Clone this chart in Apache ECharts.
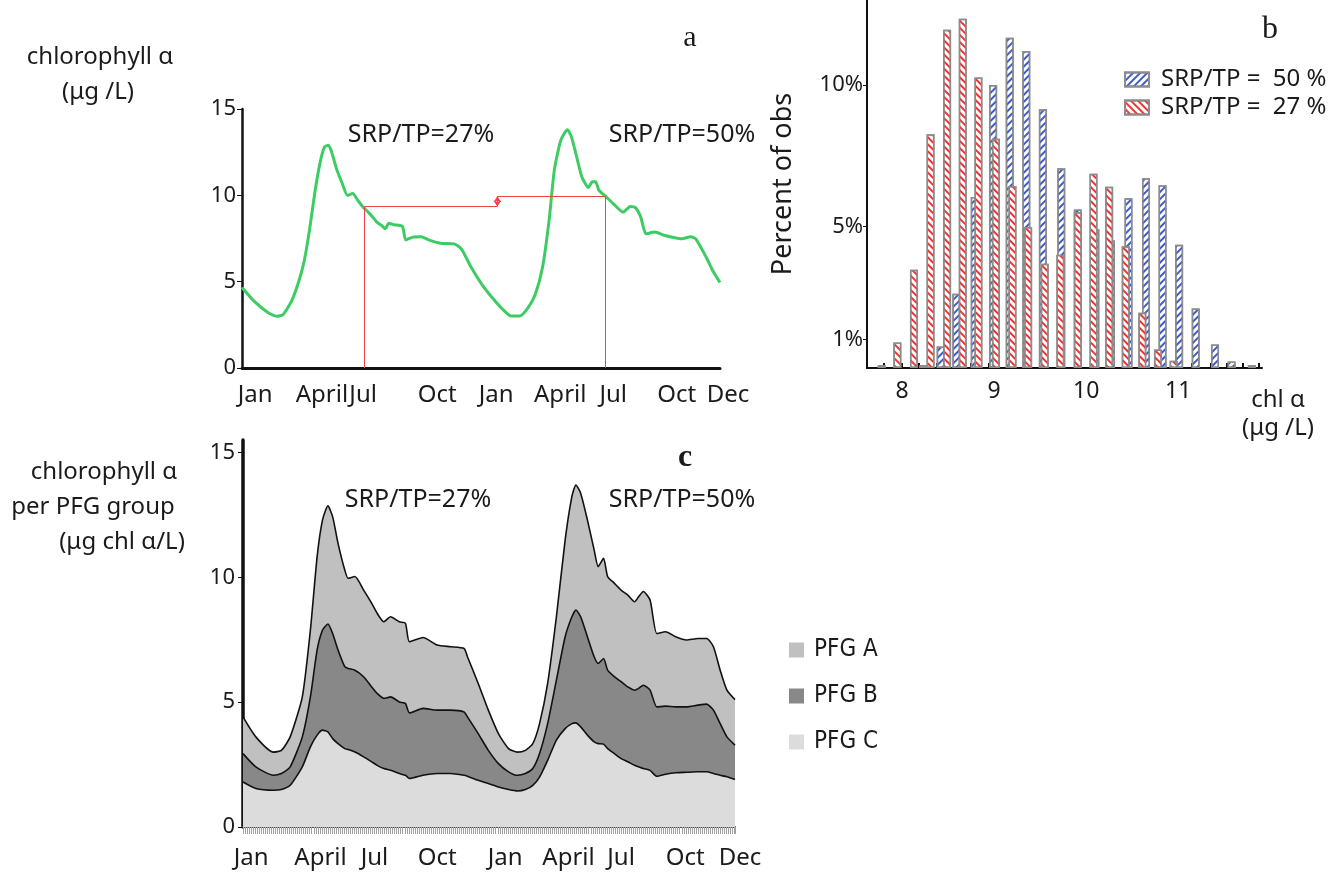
<!DOCTYPE html>
<html>
<head>
<meta charset="utf-8">
<title>chlorophyll</title>
<script src="https://cdn.jsdelivr.net/npm/echarts@6/dist/echarts.min.js"></script>
<style>
  html, body { margin: 0; padding: 0; background: #fff; }
  #main { width: 1339px; height: 877px; }
</style>
</head>
<body>
<div id="main"></div>
<script>
// ---- panel a : chlorophyll over two years (x = day) ----
const daysA = [0,18,40,53,63,76,87,95,103,111,119,126,132,137,145,153,161,169,177,184,195,206,213,219,224,232,245,250,261,274,285,303,324,335,350,366,382,398,411,424,437,448,459,469,477,487,497,503,511,519,529,535,540,545,555,567,582,593,601,609,617,630,646,661,672,685,693,709,719,730];
const chlA = [4.66,3.89,3.2,3.0,3.1,3.9,5.05,6.2,7.97,10.1,11.85,12.8,12.9,12.5,11.46,10.7,10.0,10.1,9.7,9.36,8.94,8.45,8.26,8.06,8.39,8.3,8.2,7.42,7.58,7.6,7.42,7.23,7.19,6.9,5.83,4.86,4.08,3.4,3.01,3.01,3.5,4.27,5.83,8.55,11.46,13.2,13.8,13.4,12.24,11.07,10.45,10.78,10.78,10.3,9.95,9.52,9.03,9.36,9.29,8.74,7.77,7.87,7.67,7.54,7.48,7.6,7.48,6.41,5.63,4.95];
// red reference lines (day of the July crossing, level reached)
const crossDays = [187, 554];
const crossLevels = [9.36, 9.95];
const arrowDay = 390;

// month tick labels
const monthNames = ['Jan', 'April', 'Jul', 'Oct', 'Jan', 'April', 'Jul', 'Oct', 'Dec'];
const labelDaysA = [20, 122, 185, 298, 388, 486, 567, 664, 730];
const labelDaysC = [12, 115, 195, 288, 389, 483, 561, 656, 730];

// ---- panel b : histograms of chl a ----
const binsBlue = [8.23,8.42,8.59,8.79,8.99,9.17,9.35,9.53,9.73,9.91,10.10,10.27,10.46,10.65,10.83,11.01,11.19,11.40,11.58,11.80];
const pctBlue = [0.1,0.76,2.62,6.04,10.0,11.67,11.2,9.14,7.06,5.6,4.9,4.5,6.0,6.7,6.46,4.35,2.1,0.83,0.23,0.1];
const binsRed = [7.78,7.95,8.13,8.31,8.49,8.66,8.83,9.02,9.20,9.37,9.55,9.72,9.91,10.08,10.25,10.43,10.61,10.78,10.95];
const pctRed = [0.1,0.9,3.47,8.26,11.95,12.34,10.26,8.1,6.43,4.98,3.68,4.0,5.5,6.86,6.4,4.3,1.95,0.65,0.26];
const histTicks = [7.80,8.00,8.18,8.38,8.56,8.75,8.94,9.14,9.32,9.51,9.70,9.88,10.08,10.24,10.43,10.61,10.78,10.97,11.15,11.35,11.53,11.70,11.88];

// ---- panel c : PFG groups, upper boundary of each band ----
const daysC = [0,19,45,57,70,88,100,110,118,126,133,141,151,156,166,179,191,199,209,219,232,241,247,267,288,308,328,333,349,364,379,394,407,419,430,440,452,465,478,488,494,501,511,521,527,535,541,551,561,571,581,587,594,604,614,627,642,658,675,688,698,708,718,730];
const topA = [4.41,3.61,3.0,3.07,3.61,5.21,7.89,10.83,12.3,12.86,12.43,11.36,10.29,9.96,10.03,9.49,8.96,8.56,8.22,8.42,8.22,8.16,7.42,7.59,7.29,7.22,7.15,6.82,5.75,4.68,3.74,3.14,3.0,3.07,3.34,4.14,5.75,8.42,11.5,13.24,13.7,13.37,12.3,11.1,10.43,10.76,10.03,9.76,9.49,9.29,9.02,9.22,9.43,9.09,7.75,7.82,7.62,7.49,7.55,7.55,7.22,6.28,5.48,5.1];
const topB = [2.94,2.41,2.07,2.14,2.41,3.61,5.21,7.09,7.89,8.13,7.75,7.09,6.42,6.35,6.28,6.02,5.61,5.35,5.15,5.21,5.01,4.95,4.57,4.75,4.68,4.68,4.61,4.41,3.74,3.07,2.54,2.21,2.07,2.14,2.34,2.94,4.14,5.88,7.62,8.42,8.69,8.42,7.62,6.82,6.55,6.75,6.28,6.02,5.82,5.61,5.48,5.55,5.68,5.48,4.81,4.84,4.81,4.81,4.88,4.92,4.68,4.14,3.61,3.28];
const topC = [1.80,1.54,1.47,1.5,1.67,2.41,3.21,3.68,3.88,3.81,3.54,3.34,3.14,3.10,3.0,2.81,2.61,2.47,2.34,2.27,2.14,2.07,1.94,2.07,2.14,2.14,2.07,2.03,1.87,1.74,1.6,1.5,1.44,1.5,1.67,2.0,2.67,3.48,3.94,4.14,4.17,4.01,3.68,3.41,3.34,3.32,3.14,2.94,2.74,2.61,2.47,2.41,2.34,2.27,2.03,2.11,2.17,2.19,2.21,2.21,2.14,2.07,2.01,1.90];

const SANS = '"Noto Sans", "Open Sans", sans-serif';
const NARROW = '"Liberation Sans Narrow", "DejaVu Sans Condensed", "Noto Sans", sans-serif';
const SERIF = '"Liberation Serif", "DejaVu Serif", serif';
const INK = '#1c1a1a';

const pairs = (xs, ys) => xs.map((x, i) => [x, ys[i]]);

function monthFormatter(days) {
  return function (v) {
    const name = monthNames[days.indexOf(v)] || '';
    return name === 'Dec' ? '{dec|' + name + '}' : name;
  };
}

function txt(text, x, y, size, opts) {
  return {
    type: 'text', x: x, y: y, silent: true,
    style: Object.assign({
      text: text, fill: INK, font: size + 'px ' + SANS,
      align: 'center', verticalAlign: 'middle'
    }, opts || {})
  };
}

const chart = echarts.init(document.getElementById('main'));

const option = {
  animation: false,
  grid: [
    { left: 242, top: 109, right: 619, bottom: 509, outerBoundsMode: 'none' },
    { left: 867, top: 0, right: 77, bottom: 509, outerBoundsMode: 'none' },
    { left: 243, top: 440, right: 604, bottom: 50, outerBoundsMode: 'none' }
  ],
  xAxis: [
    {
      gridIndex: 0, type: 'value', min: 0, max: 730,
      axisLine: { lineStyle: { color: '#111', width: 3 } },
      axisTick: { show: false }, splitLine: { show: false },
      axisLabel: {
        customValues: labelDaysA, formatter: monthFormatter(labelDaysA),
        margin: 15, fontSize: 24, fontFamily: SANS, color: INK,
        rich: { dec: { padding: [0, 0, 0, 16], fontSize: 24, fontFamily: SANS, color: INK } }
      }
    },
    {
      gridIndex: 1, type: 'value', min: 7.62, max: 11.91,
      axisLine: { lineStyle: { color: '#111', width: 2 } },
      axisTick: { inside: true, length: 5, customValues: histTicks, lineStyle: { color: '#111', width: 2 } },
      splitLine: { show: false },
      axisLabel: { customValues: [8, 9, 10, 11], margin: 12, fontSize: 23, fontFamily: SANS, color: INK }
    },
    {
      gridIndex: 2, type: 'value', min: 0, max: 730,
      axisLine: { lineStyle: { color: '#555', width: 2 } },
      axisTick: { show: false }, splitLine: { show: false },
      axisLabel: {
        customValues: labelDaysC, formatter: monthFormatter(labelDaysC),
        margin: 19, fontSize: 24, fontFamily: SANS, color: INK,
        rich: { dec: { padding: [0, 0, 0, 10], fontSize: 24, fontFamily: SANS, color: INK } }
      }
    },
    {
      gridIndex: 2, type: 'value', min: 0, max: 730, interval: 3, position: 'bottom',
      axisLine: { show: false }, axisLabel: { show: false }, splitLine: { show: false },
      axisTick: { length: 7, lineStyle: { color: '#a0a0a0', width: 1 } }
    }
  ],
  yAxis: [
    {
      gridIndex: 0, type: 'value', min: 0, max: 15, interval: 5,
      axisLine: { show: true, lineStyle: { color: '#111', width: 2.5 } },
      axisTick: { show: true, length: 5, lineStyle: { color: '#111' } },
      splitLine: { show: false },
      axisLabel: { margin: 6, fontSize: 22, fontFamily: SANS, color: INK }
    },
    {
      gridIndex: 1, type: 'value', min: 0, max: 13,
      axisLine: { show: true, lineStyle: { color: '#111', width: 2 } },
      axisTick: { show: true, length: 4, customValues: [1, 5, 10], lineStyle: { color: '#111' } },
      splitLine: { show: false },
      axisLabel: { customValues: [1, 5, 10], formatter: '{value}%', margin: 4, fontSize: 22, fontFamily: SANS, color: INK },
      name: 'Percent of obs', nameLocation: 'middle', nameGap: 70, nameRotate: 90,
      nameTextStyle: { fontSize: 27, fontFamily: SANS, color: INK }
    },
    {
      gridIndex: 2, type: 'value', min: 0, max: 15.5,
      axisLine: { show: true, lineStyle: { color: '#111', width: 3.5 } },
      axisTick: { show: true, length: 5, customValues: [0, 5, 10, 15], lineStyle: { color: '#111' } },
      splitLine: { show: false },
      axisLabel: { customValues: [0, 5, 10, 15], margin: 8, fontSize: 22, fontFamily: SANS, color: INK }
    }
  ],
  legend: [
    {
      data: ['SRP/TP =  50 %', 'SRP/TP =  27 %'],
      orient: 'vertical', left: 1119, top: 62, itemGap: 3,
      itemWidth: 24, itemHeight: 14, icon: 'rect', selectedMode: false,
      textStyle: { fontSize: 24, lineHeight: 25, fontFamily: SANS, color: INK, padding: [0, 0, 0, 7] }
    },
    {
      data: ['PFG A', 'PFG B', 'PFG C'],
      orient: 'vertical', left: 784, top: 633, itemGap: 22,
      itemWidth: 15, itemHeight: 15, icon: 'rect', selectedMode: false,
      itemStyle: { borderWidth: 0 },
      textStyle: { fontSize: 24, lineHeight: 24, fontFamily: NARROW, color: INK, padding: [0, 0, 0, 5] }
    }
  ],
  series: [
    {
      name: 'chl a', type: 'line', xAxisIndex: 0, yAxisIndex: 0,
      data: pairs(daysA, chlA), showSymbol: false, smooth: 0.2,
      lineStyle: { color: '#3dcc63', width: 3 }, itemStyle: { color: '#3dcc63' },
      markLine: {
        silent: true, symbol: ['none', 'none'], symbolSize: 6,
        label: { show: false },
        lineStyle: { color: '#f04048', width: 1, type: 'solid' },
        data: [
          [{ coord: [crossDays[0], 0] }, { coord: [crossDays[0], crossLevels[0]] }],
          [{ coord: [crossDays[0], crossLevels[0]] }, { coord: [arrowDay, crossLevels[0]] }],
          [{ coord: [crossDays[1], 0] }, { coord: [crossDays[1], crossLevels[1]] }],
          [{ coord: [arrowDay, crossLevels[1]] }, { coord: [crossDays[1], crossLevels[1]] }],
          [{ coord: [arrowDay, crossLevels[0]], symbol: 'arrow' }, { coord: [arrowDay, crossLevels[1]], symbol: 'arrow' }]
        ]
      }
    },
    {
      name: 'SRP/TP =  50 %', type: 'bar', xAxisIndex: 1, yAxisIndex: 1,
      data: pairs(binsBlue, pctBlue), barWidth: 8, barGap: '-100%',
      itemStyle: {
        color: '#fff', borderColor: '#8c8c8c', borderWidth: 1.5,
        decal: { symbol: 'rect', symbolSize: 1, color: '#3d5cc8', dashArrayX: [1, 0], dashArrayY: [1.5, 3], rotation: -Math.PI / 4 }
      }
    },
    {
      name: 'SRP/TP =  27 %', type: 'bar', xAxisIndex: 1, yAxisIndex: 1,
      data: pairs(binsRed, pctRed), barWidth: 8, barGap: '-100%',
      itemStyle: {
        color: '#fff', borderColor: '#8c8c8c', borderWidth: 1.5,
        decal: { symbol: 'rect', symbolSize: 1, color: '#f03434', dashArrayX: [1, 0], dashArrayY: [1.5, 3], rotation: Math.PI / 4 }
      }
    },
    {
      name: 'PFG A', type: 'line', xAxisIndex: 2, yAxisIndex: 2,
      data: pairs(daysC, topA), showSymbol: false, smooth: 0.2,
      lineStyle: { color: '#111', width: 1.6 }, itemStyle: { color: '#c0c0c0' },
      areaStyle: { color: '#c0c0c0', opacity: 1 }
    },
    {
      name: 'PFG B', type: 'line', xAxisIndex: 2, yAxisIndex: 2,
      data: pairs(daysC, topB), showSymbol: false, smooth: 0.2,
      lineStyle: { color: '#111', width: 1.6 }, itemStyle: { color: '#888888' },
      areaStyle: { color: '#888888', opacity: 1 }
    },
    {
      name: 'PFG C', type: 'line', xAxisIndex: 2, yAxisIndex: 2,
      data: pairs(daysC, topC), showSymbol: false, smooth: 0.2,
      lineStyle: { color: '#111', width: 1.6 }, itemStyle: { color: '#dcdcdc' },
      areaStyle: { color: '#dcdcdc', opacity: 1 }
    }
  ],
  graphic: [
    txt('chlorophyll \u03b1', 100, 57, 24),
    txt('(\u03bcg /L)', 98, 92, 24),
    txt('a', 690, 38, 30, { font: '30px ' + SERIF }),
    txt('SRP/TP=27%', 421, 135, 25),
    txt('SRP/TP=50%', 682, 135, 25),
    txt('b', 1270, 30, 32, { font: '32px ' + SERIF }),
    txt('chl \u03b1', 1278, 400, 24),
    txt('(\u03bcg /L)', 1278, 428, 24),
    txt('c', 685, 458, 32, { font: 'bold 32px ' + SERIF }),
    txt('chlorophyll \u03b1', 104, 472, 24),
    txt('per PFG group', 93, 507, 24),
    txt('(\u03bcg chl \u03b1/L)', 122, 542, 24),
    txt('SRP/TP=27%', 418, 500, 25),
    txt('SRP/TP=50%', 682, 500, 25)
  ]
};

chart.setOption(option);
</script>
</body>
</html>
